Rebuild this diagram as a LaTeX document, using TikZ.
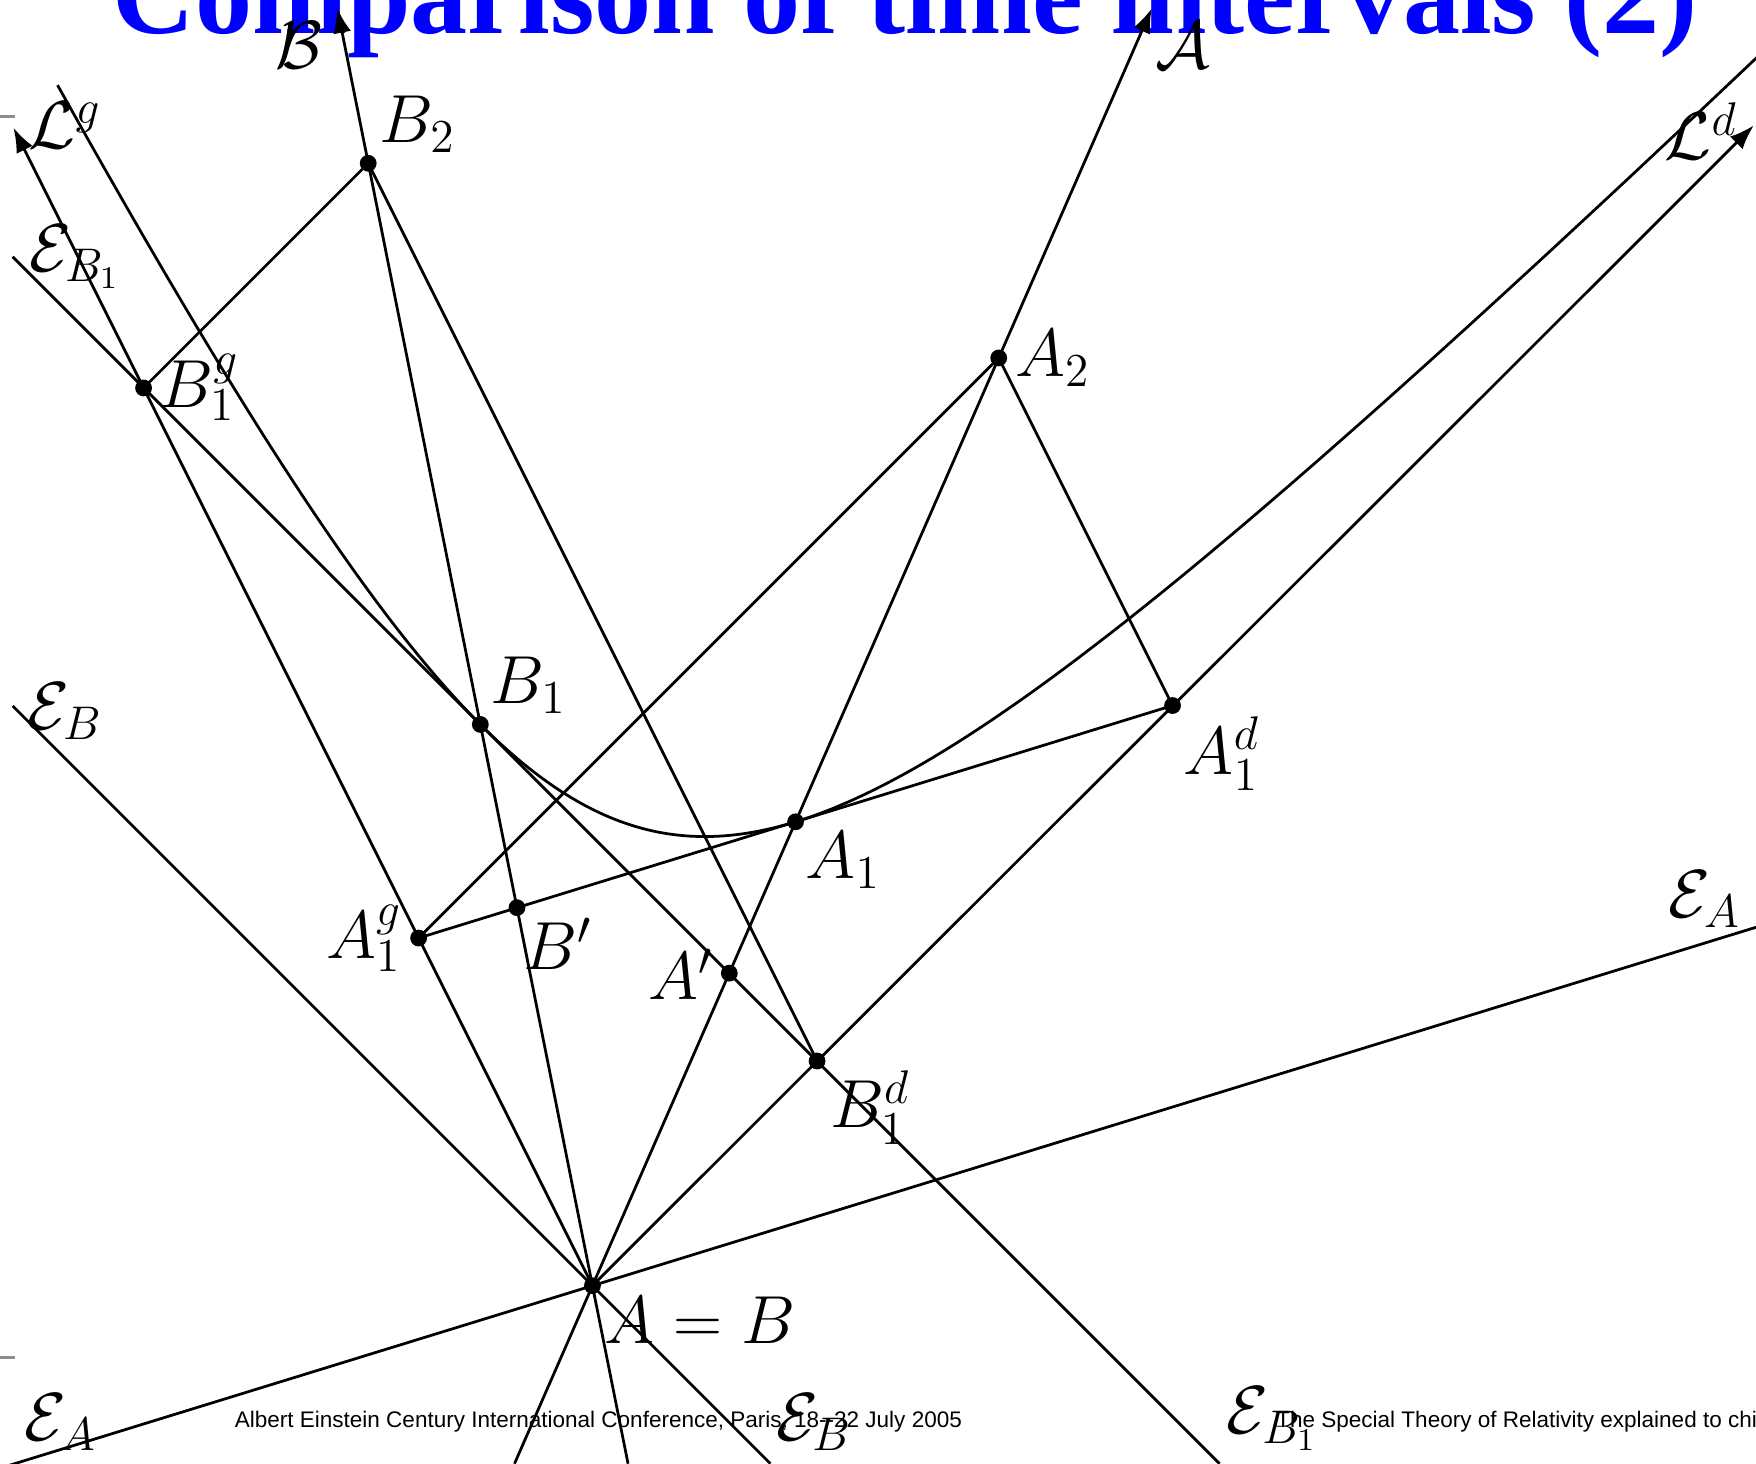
\documentclass[tikz,border=0pt]{standalone}
\usepackage{fontspec}
\newfontfamily\titlefont{Liberation Serif}
\newfontfamily\footfont{Liberation Sans}
\usetikzlibrary{arrows.meta,calc}
\definecolor{slideBlue}{RGB}{0,0,255}
\definecolor{slideGrey}{gray}{0.55}
\tikzset{
  >={Latex[length=2.2mm,width=1.6mm]},
  wline/.style={line width=0.7pt, line join=round},
  lbl/.style={inner sep=0pt, font=\fontsize{16.5}{20}\selectfont},
  foot/.style={inner sep=0pt, anchor=base west, font=\footfont\fontsize{5.72}{7}\selectfont},
  ttl/.style={inner sep=0pt, anchor=base west, text=slideBlue,
              font=\titlefont\bfseries\fontsize{29}{34}\selectfont},
  edgetick/.style={draw=slideGrey, line width=0.8pt},
}

\begin{document}
\begin{tikzpicture}
  \useasboundingbox (0,0) rectangle (15.68,13.07);
  \clip (0,0) rectangle (15.68,13.07);

  \node[ttl] (title) at (1.00,12.775) {Comparison of time intervals (2)};
  \coordinate (t1a) at (0,12.03);  \coordinate (t1b) at (0.13,12.03);
  \coordinate (t2a) at (0,0.95);   \coordinate (t2b) at (0.13,0.95);
  \draw[edgetick] (t1a) -- (t1b);
  \draw[edgetick] (t2a) -- (t2b);

  \coordinate (O) at (5.29,1.59);
  \coordinate (A1g) at (3.738,4.694);
  \coordinate (A1d) at (10.47,6.77);
  \coordinate (A1) at (7.104,5.732);
  \coordinate (A2) at (8.918,9.874);
  \coordinate (B1g) at (1.282,9.606);
  \coordinate (B1d) at (7.296,3.596);
  \coordinate (B1) at (4.289,6.601);
  \coordinate (B2) at (3.288,11.612);
  \coordinate (Bp) at (intersection of A1g--A1d and O--B2);
  \coordinate (Ap) at (intersection of B1g--B1d and O--A2);

  \coordinate (Abot) at (4.594,0);   \coordinate (Atip) at (10.285,12.996);
  \coordinate (Bbot) at (5.608,0);   \coordinate (Btip) at (3.012,12.996);
  \coordinate (EAl) at (0,-0.04);    \coordinate (EAr) at (15.68,4.79);
  \coordinate (EBt) at (0.113,6.767); \coordinate (EBb) at (6.88,0);
  \coordinate (EB1t) at (0.113,10.777); \coordinate (EB1b) at (10.89,0);
  \coordinate (Ldtip) at (15.66,11.95);
  \coordinate (Lgtip) at (0.12,11.93);

  \draw[wline,->] (Abot) -- (O) -- (Atip);
  \draw[wline,->] (Bbot) -- (O) -- (Btip);
  \draw[wline] (EAl) -- (EAr);
  \draw[wline] (EBt) -- (EBb);
  \draw[wline] (EB1t) -- (EB1b);
  \draw[wline,->] (O) -- (Ldtip);
  \draw[wline,->] (O) -- (Lgtip);
  \draw[wline] (A1g) -- (A2) -- (A1d);
  \draw[wline] (B1g) -- (B2) -- (B1d);
  \draw[wline] (A1g) -- (A1d);
  \draw[wline] plot[domain=-0.944:2.361, samples=200, smooth, variable=\t]
    ({5.29+exp(\t)-2.0098*exp(-\t)},{1.59+exp(\t)+4.0196*exp(-\t)});

  \foreach \p in {O,A1g,A1d,A1,A2,B1g,B1d,B1,B2,Bp,Ap}
    \fill (\p) circle (0.75mm);

  \node[lbl] (lB) at (2.67,12.67) {$\mathcal{B}$};
  \node[lbl] (lA) at (10.56,12.67) {$\mathcal{A}$};
  \node[lbl] (lLg) at (0.58,11.95) {$\mathcal{L}^g$};
  \node[lbl] (lLd) at (15.19,11.90) {$\mathcal{L}^d$};
  \node[lbl] (lB2) at (3.73,11.96) {$B_2$};
  \node[lbl] (lEB1t) at (0.67,10.78) {$\mathcal{E}_{B_1}$};
  \node[lbl] (lB1g) at (1.78,9.61) {$B_1^g$};
  \node[lbl] (lA2) at (9.40,9.87) {$A_2$};
  \node[lbl] (lB1) at (4.72,6.95) {$B_1$};
  \node[lbl] (lEBt) at (0.58,6.72) {$\mathcal{E}_B$};
  \node[lbl] (lA1d) at (10.91,6.34) {$A_1^d$};
  \node[lbl] (lA1) at (7.53,5.39) {$A_1$};
  \node[lbl] (lEAr) at (15.22,5.04) {$\mathcal{E}_A$};
  \node[lbl] (lA1g) at (3.25,4.69) {$A_1^g$};
  \node[lbl] (lBp) at (4.98,4.64) {$B'$};
  \node[lbl] (lAp) at (6.08,4.37) {$A'$};
  \node[lbl] (lB1d) at (7.77,3.18) {$B_1^d$};
  \node[lbl] (lO) at (6.25,1.28) {$A=B$};
  \node[lbl] (lEAb) at (0.54,0.37) {$\mathcal{E}_A$};
  \node[lbl] (lEBb) at (7.27,0.37) {$\mathcal{E}_B$};
  \node[lbl] (lEB1b) at (11.36,0.40) {$\mathcal{E}_{B_1}$};

  \node[foot] (footL) at (2.09,0.32)
    {Albert Einstein Century International Conference, Paris, 18--22 July 2005};
  \node[foot] (footR) at (11.39,0.32)
    {The Special Theory of Relativity explained to children};
\end{tikzpicture}
\end{document}
